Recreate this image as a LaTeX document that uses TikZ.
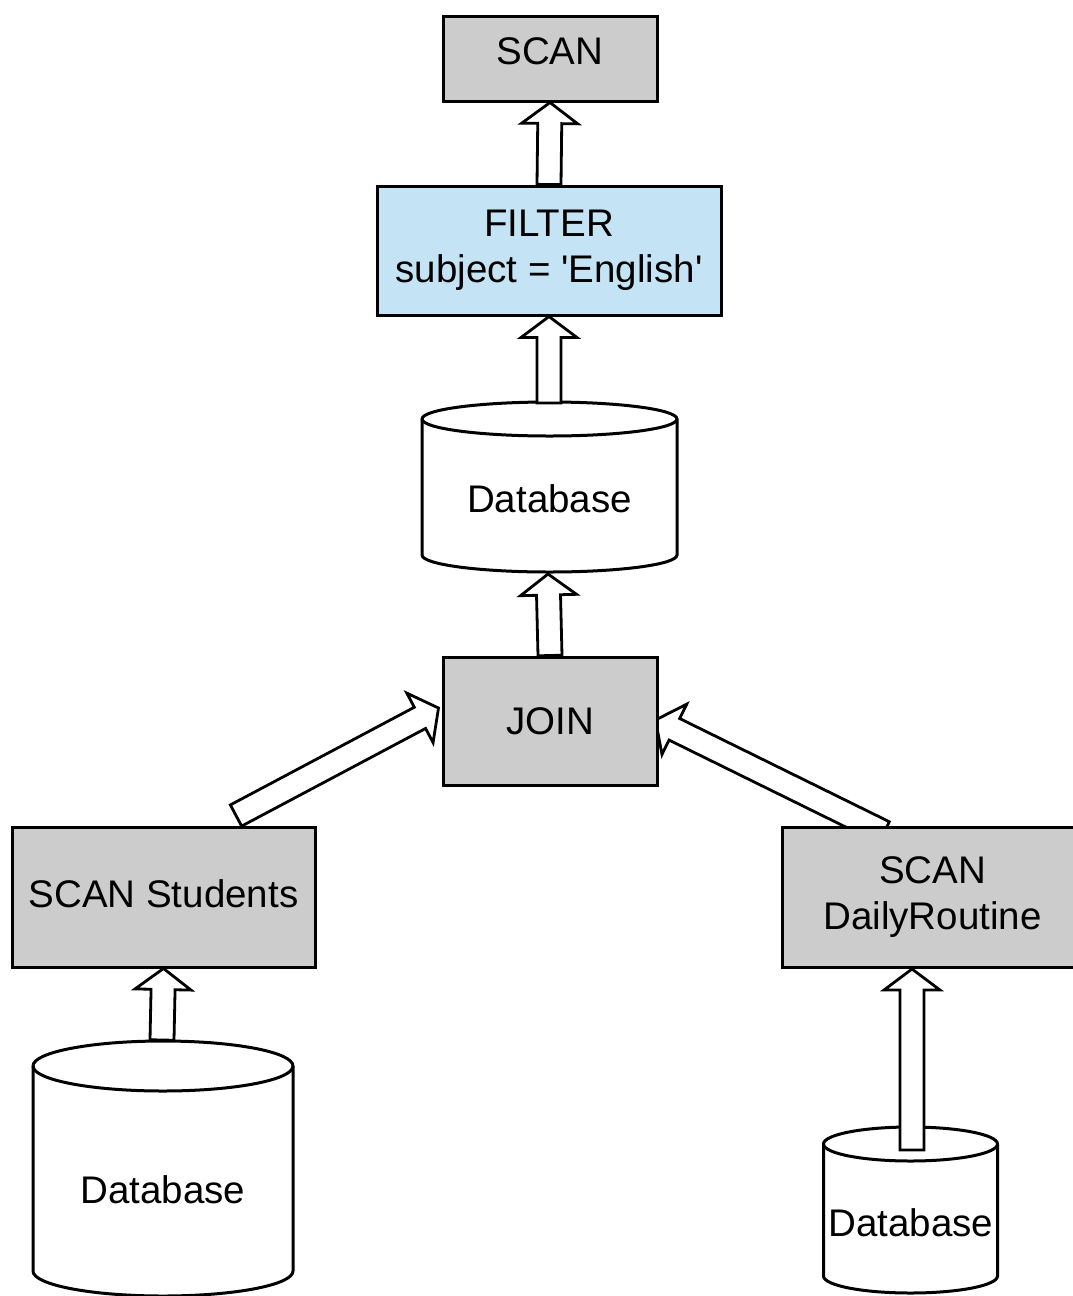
\documentclass[tikz,border=0pt]{standalone}
\usepackage{fontspec}
\setmainfont{Liberation Sans}[Ligatures=TeXOff]
\usetikzlibrary{calc}

\definecolor{opgray}{HTML}{CCCCCC}
\definecolor{opblue}{HTML}{C4E3F5}

\pgfdeclarelayer{behind}
\pgfsetlayers{behind,main}

% dimensions of the hollow block arrows
\def\fahead{21pt}
\def\fashaft{12pt}
\def\fawing{28pt}

\tikzset{
  every node/.style={font=\fontsize{38.5pt}{46pt}\selectfont, inner sep=0pt},
  opbox/.style={draw=black, line width=3pt, fill=opgray, align=center},
  fatline/.style={draw=black, line width=2.8pt, fill=white, line join=miter},
  cylline/.style={draw=black, line width=3pt, fill=white},
}

% hollow block arrow from #2 to #3
\newcommand\fatarrow[3][]{%
  \draw[fatline,#1] let \p1=(#2), \p2=(#3),
      \n1={atan2(\y2-\y1,\x2-\x1)},
      \n2={veclen(\x2-\x1,\y2-\y1)-\fahead}
    in ($(\p1)+(\n1+90:\fashaft)$)
    -- ($(\p1)+(\n1:\n2)+(\n1+90:\fashaft)$)
    -- ($(\p1)+(\n1:\n2)+(\n1+90:\fawing)$)
    -- (\p2)
    -- ($(\p1)+(\n1:\n2)+(\n1-90:\fawing)$)
    -- ($(\p1)+(\n1:\n2)+(\n1-90:\fashaft)$)
    -- ($(\p1)+(\n1-90:\fashaft)$)
    -- cycle;}

% database cylinder: centre x, half width, top and bottom ellipse centres, ellipse radius
\newcommand\dbcyl[5]{%
  \draw[cylline] ({#1-#2},#3) -- ({#1-#2},#4)
    arc[start angle=180, end angle=360, x radius=#2, y radius=#5]
    -- ({#1+#2},#3)
    arc[start angle=0, end angle=180, x radius=#2, y radius=#5] -- cycle;
  \draw[cylline, fill=none] ({#1-#2},#3)
    arc[start angle=180, end angle=360, x radius=#2, y radius=#5];}

\begin{document}
\begin{tikzpicture}[x=1pt, y=1pt]
\useasboundingbox (0,0) rectangle (1073,-1296);

% operator boxes
\node[opbox, minimum width=214pt, minimum height=85pt, text depth=14pt] (scan) at (550,-58.5) {SCAN};
\node[opbox, fill=opblue, minimum width=344pt, minimum height=129pt] (filter) at (549,-250.5) {FILTER\\subject = 'English'};
\node[opbox, minimum width=214pt, minimum height=128pt] (join) at (550,-721) {JOIN};
\node[opbox, minimum width=303pt, minimum height=140pt, text depth=7pt] (scanstu) at (163.5,-897) {SCAN Students};
\node[opbox, minimum width=301pt, minimum height=140pt] (scandr) at (932.5,-897) {SCAN\\DailyRoutine};

% databases
\dbcyl{549.5}{127.5}{-419}{-555}{17}
\node (dbmid) at (549.5,-499) {Database};
\dbcyl{163}{130}{-1066}{-1271}{25}
\node (dbleft) at (163,-1190) {Database};
\dbcyl{910.5}{87}{-1144}{-1276}{17}
\node (dbright) at (911,-1223) {Database};

% connector ends
\coordinate (dbmid-top) at (549,-403);
\coordinate (dbmid-bot) at (548,-574);
\coordinate (stu-out) at ($(scanstu.north)+(72.5,10)$);
\coordinate (join-inl) at ($(join.west)+(-3,13)$);
\coordinate (dr-out) at ($(scandr.north)+(-48.5,-7)$);
\coordinate (join-inr) at ($(join.east)+(-3,1)$);
\coordinate (dbl-top) at (162,-1040);
\coordinate (dbr-in) at (912,-1150);
\coordinate (dr-in) at (912,-969);

% data flow
\fatarrow{filter.north}{scan.south}
\fatarrow{dbmid-top}{filter.south}
\fatarrow{join.north}{dbmid-bot}
\fatarrow{stu-out}{join-inl}
\begin{pgfonlayer}{behind}
\fatarrow{dr-out}{join-inr}
\end{pgfonlayer}
\fatarrow{dbl-top}{scanstu.south}
\fatarrow{dbr-in}{dr-in}
\end{tikzpicture}
\end{document}
